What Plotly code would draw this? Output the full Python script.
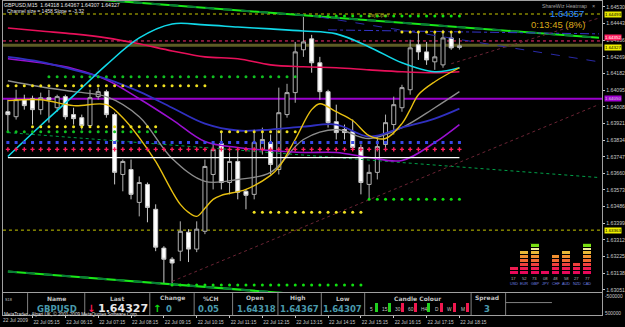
import math
import pandas as pd
import plotly.graph_objects as go

W, H = 625, 327

# ---------------- data ----------------
bar_times = pd.date_range("2009-07-22 04:30", periods=56, freq="15min")
bars = list(range(len(bar_times)))

opens = [1.63982, 1.63956, 1.64045, 1.64050, 1.63993, 1.64055, 1.64003, 1.64061, 1.63967, 1.63951,
         1.63910, 1.64061, 1.64087, 1.63967, 1.63654, 1.63680, 1.63508, 1.63602, 1.63472, 1.63269,
         1.63211, 1.63253, 1.63352, 1.63264, 1.63357, 1.63654, 1.63816, 1.63612, 1.63722, 1.63566,
         1.63550, 1.63785, 1.63821, 1.63680, 1.63967, 1.64082, 1.64306, 1.64363, 1.64238, 1.64087,
         1.63930, 1.63889, 1.63878, 1.63795, 1.63602, 1.63665, 1.63811, 1.63915, 1.64003, 1.64097,
         1.64332, 1.64295, 1.64243, 1.64227, 1.64368, 1.64318]
highs = [1.64045, 1.64097, 1.64071, 1.64066, 1.64082, 1.64097, 1.64071, 1.64071, 1.64003, 1.63967,
         1.64097, 1.64108, 1.64097, 1.63977, 1.63732, 1.63732, 1.63644, 1.63612, 1.63498, 1.63279,
         1.63222, 1.63409, 1.63368, 1.63409, 1.63732, 1.63821, 1.63873, 1.63769, 1.63785, 1.63576,
         1.63889, 1.63899, 1.63863, 1.64108, 1.64128, 1.64347, 1.64477, 1.64384, 1.64269, 1.64097,
         1.64019, 1.63915, 1.63941, 1.63811, 1.63706, 1.63852, 1.63967, 1.64061, 1.64123, 1.64358,
         1.64399, 1.64347, 1.64399, 1.64410, 1.64394, 1.64367]
lows = [1.63873, 1.63941, 1.63993, 1.63915, 1.63967, 1.63925, 1.63982, 1.63941, 1.63915, 1.63889,
        1.63899, 1.64045, 1.63951, 1.63602, 1.63566, 1.63524, 1.63435, 1.63404, 1.63253, 1.63081,
        1.63071, 1.63201, 1.63196, 1.63248, 1.63342, 1.63576, 1.63576, 1.63550, 1.63524, 1.63472,
        1.63524, 1.63758, 1.63654, 1.63654, 1.63951, 1.64029, 1.64269, 1.64186, 1.64045, 1.63899,
        1.63837, 1.63837, 1.63785, 1.63550, 1.63524, 1.63628, 1.63785, 1.63863, 1.63982, 1.64071,
        1.64253, 1.64227, 1.64201, 1.64212, 1.64306, 1.64307]
closes = [1.63967, 1.64045, 1.64014, 1.63993, 1.64055, 1.64045, 1.64061, 1.63956, 1.63946, 1.63910,
          1.64055, 1.64087, 1.63967, 1.63665, 1.63722, 1.63550, 1.63612, 1.63482, 1.63274, 1.63211,
          1.63191, 1.63357, 1.63264, 1.63368, 1.63696, 1.63785, 1.63612, 1.63722, 1.63561, 1.63545,
          1.63821, 1.63837, 1.63706, 1.63977, 1.64082, 1.64295, 1.64347, 1.64238, 1.64087, 1.63925,
          1.63873, 1.63873, 1.63795, 1.63612, 1.63665, 1.63800, 1.63925, 1.64019, 1.64108, 1.64316,
          1.64295, 1.64253, 1.64269, 1.64368, 1.64316, 1.64327]

ma_bars = [0, 4, 8, 12, 16, 20, 24, 28, 32, 36, 40, 44, 48, 52, 55]
ma_cyan = [1.63748, 1.63910, 1.64066, 1.64227, 1.64368, 1.64441, 1.64436, 1.64425, 1.64415, 1.64404,
           1.64389, 1.64321, 1.64238, 1.64191, 1.64212]
ma_crimson = [1.64420, 1.64404, 1.64389, 1.64368, 1.64337, 1.64300, 1.64269, 1.64259, 1.64227, 1.64217,
              1.64212, 1.64201, 1.64191, 1.64186, 1.64191]
ma_blue = [1.64269, 1.64243, 1.64201, 1.64154, 1.64087, 1.64003, 1.63920, 1.63884, 1.63889, 1.63904,
           1.63915, 1.63852, 1.63899, 1.63946, 1.63998]
ma_purple = [1.64259, 1.64238, 1.64207, 1.64149, 1.64050, 1.63941, 1.63826, 1.63795, 1.63779, 1.63769,
             1.63769, 1.63743, 1.63727, 1.63821, 1.63915]
ma_gray = [1.64144, 1.64113, 1.64087, 1.64061, 1.63956, 1.63738, 1.63618, 1.63628, 1.63665, 1.63837,
           1.63889, 1.63842, 1.63899, 1.64003, 1.64087]
yellow_bars = [0, 4, 8, 12, 14, 16, 18, 20, 21, 22, 23, 24, 25, 26, 29, 32, 33, 35, 37, 38, 40, 42,
               44, 46, 48, 49, 50, 52, 55]
ma_yellow = [1.64040, 1.64045, 1.64014, 1.64019, 1.63951, 1.63847, 1.63722, 1.63566, 1.63498, 1.63456,
             1.63435, 1.63477, 1.63524, 1.63545, 1.63576, 1.63649, 1.63691, 1.63837, 1.63993, 1.64024,
             1.63982, 1.63936, 1.63857, 1.63842, 1.63920, 1.63993, 1.64071, 1.64139, 1.64212]

# straight lines (bar index pairs, price pairs)
upper_ch_bars, upper_ch = [0, 72], [1.64604, 1.64369]
lower_ch_bars, lower_ch = [0, 36], [1.63147, 1.63026]
mid_ch_bars, mid_ch = [0, 72], [1.63873, 1.63638]
navy1_bars, navy1 = [38, 72], [1.64477, 1.64243]
navy2_bars, navy2 = [39, 72], [1.64410, 1.64389]
maroon1_bars, maroon1 = [20, 72], [1.63095, 1.64020]
maroon2_bars, maroon2 = [54, 72], [1.64233, 1.64472]
white_bars, white_level = [0, 55], 1.63742

# horizontal levels across the chart
level_prices = [1.64493, 1.64352, 1.64330, 1.64050, 1.63363]
level_labels = ["1.64493", "1.64352", "1.64327", "1.64050", "1.63363"]

# dotted level rows
dot_level = [1.64483, 1.64399, 1.64165, 1.64118, 1.63904, 1.63878, 1.63821, 1.63785, 1.63878, 1.63456,
             1.63076, 1.63524]
dot_first = [38, 48, 5, 0, 3, 0, 0, 0, 26, 30, 20, 44]
dot_last = [55, 55, 35, 24, 18, 18, 55, 55, 35, 43, 43, 55]

# axis ticks
price_ticks = [1.64530, 1.64443, 1.64356, 1.64269, 1.64182, 1.64095, 1.64008, 1.63921, 1.63834,
               1.63747, 1.63660, 1.63573, 1.63486, 1.63399, 1.63312, 1.63225, 1.63138, 1.63051]
price_tick_text = ["1.64530", "1.64443", "1.64356", "1.64269", "1.64182", "1.64095", "1.64008",
                   "1.63921", "1.63834", "1.63747", "1.63660", "1.63573", "1.63486", "1.63399",
                   "1.63312", "1.63225", "1.63138", "1.63051"]
time_tick_bars = [3, 7, 11, 15, 19, 23, 27, 31, 35, 39, 43, 47, 51, 55]
time_tick_text = ["22 Jul 05:15", "22 Jul 06:15", "22 Jul 07:15", "22 Jul 08:15", "22 Jul 09:15",
                  "22 Jul 10:15", "22 Jul 11:15", "22 Jul 12:15", "22 Jul 13:15", "22 Jul 14:15",
                  "22 Jul 15:15", "22 Jul 16:15", "22 Jul 17:15", "22 Jul 18:15"]

# heatmap
currencies = ["USD", "EUR", "GBP", "JPY", "CHF", "AUD", "NZD", "CAD"]
strength = [17, 52, 73, 8, 48, 58, 27, 77]
strength_text = ["17", "52", "73", "08", "48", "58", "27", "77"]

# candle colour panel
timeframes = ["5", "15", "30", "60", "H4", "D", "W", "M"]
tf_bull = [True, True, False, False, True, False, False, False]

# table
headers = ["Name", "Last", "Change", "%CH", "Open", "High", "Low", "Candle Colour", "Spread"]
symbol_name, last_price, change_val, pct_change = "GBPUSD", "1.64327", "0", "0.05"
open_price, high_price, low_price, spread = "1.64318", "1.64367", "1.64307", "3"

# ---------------- helpers ----------------
def px(x):
    return x / W

def py(y):
    return 1 - y / H

X_RANGE = [-0.6, 72.39]
Y_RANGE = [1.63039, 1.64561]
FONT = "Liberation Sans"

fig = go.Figure()

fig.add_trace(go.Candlestick(
    x=bars, open=opens, high=highs, low=lows, close=closes,
    increasing=dict(line=dict(color="#b0b0b0", width=1), fillcolor="#000000"),
    decreasing=dict(line=dict(color="#c8c8c8", width=1), fillcolor="#ffffff"),
    whiskerwidth=0, hoverinfo="skip", showlegend=False))

def line(xs, ys, color, width=1.0, dash="solid", shape="linear"):
    fig.add_trace(go.Scatter(x=xs, y=ys, mode="lines", hoverinfo="skip", showlegend=False,
                             line=dict(color=color, width=width, dash=dash, shape=shape)))

# channel + trend lines
line(upper_ch_bars, upper_ch, "#18e818", 2)
line(upper_ch_bars, upper_ch, "#0a7a3a", 2, "dash")
line(lower_ch_bars, lower_ch, "#18e818", 2)
line(lower_ch_bars, lower_ch, "#0a7a3a", 2, "dash")
line(mid_ch_bars, mid_ch, "#00a048", 1, "dot")
line(navy1_bars, navy1, "#2a2aa8", 1, "dash")
line(navy2_bars, navy2, "#3434c8", 1, "dashdot")
line(maroon1_bars, maroon1, "#6a2434", 1, "dot")
line(maroon2_bars, maroon2, "#6a2434", 1, "dot")

# moving averages
line(ma_bars, ma_crimson, "#e8105a", 1.6, shape="spline")
line(ma_bars, ma_gray, "#8c8c8c", 1.4, shape="spline")
line(ma_bars, ma_purple, "#9a10d0", 1.6, shape="spline")
line(ma_bars, ma_blue, "#3030c0", 1.8, shape="spline")
line(ma_bars, ma_cyan, "#10d8e8", 1.6, shape="spline")
line(yellow_bars, ma_yellow, "#e8c010", 1.4, shape="spline")
line(white_bars, [white_level] * len(white_bars), "#ffffff", 1.2)

# horizontal levels
level_styles = [("#c8c800", 1, "dot"), ("#ff3070", 1, "dot"), ("#5c5c24", 3, "solid"),
                ("#9a00cc", 2, "solid"), ("#c8c800", 1, "dot")]
for p, (col, wd, ds) in zip(level_prices, level_styles):
    fig.add_hline(y=p, line=dict(color=col, width=wd, dash=ds), layer="below")

# dot rows
dot_colors = ["#10e010", "#f0e020", "#10c020", "#f0e020", "#f0e020", "#10c020", "#3848e8",
              "#ff2060", "#f0e020", "#f0e020", "#10e010", "#10e010"]
dot_symbols = ["circle"] * 6 + ["square", "cross"] + ["circle"] * 4
for lvl, a, b, col, sym in zip(dot_level, dot_first, dot_last, dot_colors, dot_symbols):
    xs = list(range(a, b + 1))
    fig.add_trace(go.Scatter(x=xs, y=[lvl] * len(xs), mode="markers", hoverinfo="skip",
                             showlegend=False,
                             marker=dict(color=col, size=3 if sym != "cross" else 3.5, symbol=sym,
                                         line=dict(width=0))))

# sub window (placeholder trace so the subplot exists)
fig.add_trace(go.Scatter(x=[bars[0]], y=[0.5], xaxis="x2", yaxis="y2", mode="markers",
                         marker=dict(opacity=0), hoverinfo="skip", showlegend=False))

# heatmap bars
counts = [math.ceil(v / 10) for v in strength]
level_colors = ["#e8085a", "#ee1c50", "#f0403c", "#f06830", "#f09030", "#e8b838", "#f0eca0", "#78e010"]
for k, col in enumerate(level_colors, start=1):
    fig.add_trace(go.Bar(x=currencies, y=[1 if c >= k else None for c in counts],
                         marker=dict(color=col, line=dict(color="#000000", width=1)),
                         width=0.82, xaxis="x3", yaxis="y3", hoverinfo="skip", showlegend=False))

# candle colour bars
fig.add_trace(go.Bar(x=[i + 0.18 for i in range(len(timeframes))], y=[1] * len(timeframes),
                     width=0.22, xaxis="x4", yaxis="y4", hoverinfo="skip", showlegend=False,
                     marker=dict(color=["#20d020" if b else "#f01850" for b in tf_bull],
                                 line=dict(width=0))))

axis_common = dict(showgrid=False, zeroline=False, fixedrange=True)
fig.update_layout(
    width=W, height=H, margin=dict(l=0, r=0, t=0, b=0),
    paper_bgcolor="#000000", plot_bgcolor="#000000", showlegend=False, hovermode=False,
    barmode="stack",
    xaxis=dict(domain=[px(3), px(611)], range=X_RANGE, showticklabels=False, ticks="",
               showline=True, mirror=True, linecolor="#a0a0a0", linewidth=1,
               rangeslider=dict(visible=False), anchor="y", **axis_common),
    yaxis=dict(domain=[py(293), py(1)], range=Y_RANGE, side="right", anchor="x",
               tickvals=price_ticks, ticktext=price_tick_text,
               tickfont=dict(family=FONT, size=5.2, color="#c8c8c8"),
               ticks="outside", ticklen=2, tickcolor="#c8c8c8", ticklabeloverflow="allow",
               showline=True, mirror=True, linecolor="#a0a0a0", linewidth=1, **axis_common),
    xaxis2=dict(domain=[px(3), px(611)], range=X_RANGE, anchor="y2", side="bottom",
                tickmode="array", tickvals=time_tick_bars, ticktext=time_tick_text,
                ticklabelshift=14, tickangle=0, ticklabeloverflow="allow",
                tickfont=dict(family=FONT, size=4.8, color="#c8c8c8"),
                ticks="outside", ticklen=2, tickcolor="#c8c8c8", showticklabels=True,
                showline=True, mirror=True, linecolor="#a0a0a0", linewidth=1, **axis_common),
    yaxis2=dict(domain=[py(316), py(294)], range=[0, 1], anchor="x2", side="right",
                showticklabels=False, ticks="", showline=True, mirror=True,
                linecolor="#a0a0a0", linewidth=1, **axis_common),
    xaxis3=dict(domain=[px(516), px(601)], range=[-0.5, 7.5], anchor="y3", visible=False,
                type="category", **axis_common),
    yaxis3=dict(domain=[py(275), py(244)], range=[0, 8], anchor="x3", visible=False, **axis_common),
    xaxis4=dict(domain=[px(373), px(479)], range=[-0.5, 7.5], anchor="y4", visible=False,
                **axis_common),
    yaxis4=dict(domain=[py(313), py(304)], range=[0, 1], anchor="x4",
                visible=False, **axis_common),
)

ann = []

def text(x, y, s, size, color, anchor="left", family=FONT, xref="paper", yref="paper",
         bg=None, vanchor="middle"):
    d = dict(x=x, y=y, xref=xref, yref=yref, text=s, showarrow=False, xanchor=anchor,
             yanchor=vanchor, font=dict(family=family, size=size, color=color), borderpad=0)
    if bg:
        d["bgcolor"] = bg
    ann.append(d)

# header texts on chart
text(px(3), py(5), "GBPUSD,M15  1.64318 1.64367 1.64307 1.64327", 5.2, "#e8e8e8")
text(px(6), py(11.5), "Channel size = 1458 Slope = -3.32", 5.0, "#e8e8e8")
text(px(597), py(6), "ShareWiz Heatmap", 5.2, "#a0a0a0", anchor="right")
text(px(600), py(6), "×", 5.5, "#a0a0a0")
text(px(594), py(14), "1.64357", 9.5, "#2f8cff", anchor="right")
text(px(595), py(24.5), "0:13:45 (8%)", 9.5, "#d8a818", anchor="right")
text(px(372), py(16), "Day Open", 4.6, "#b0b020")

# right axis price highlights
hl_bg = ["#e8e800", "#ff2060", "#f0f000", "#a000d0", "#f0f000"]
hl_fg = ["#000000", "#ffffff", "#000000", "#d0d0d0", "#000000"]
hl_shift = [0, 3.0, -2.0, 0, 0]
for order in [0, 1, 3, 4, 2]:
    d = dict(x=px(612.5), y=level_prices[order], xref="paper", yref="y",
             text=level_labels[order], showarrow=False, xanchor="left", yanchor="middle",
             yshift=hl_shift[order], bgcolor=hl_bg[order], borderpad=0,
             font=dict(family=FONT, size=4.4, color=hl_fg[order]))
    ann.append(d)

# sub window axis labels
text(px(613), py(297.5), "-500000", 4.8, "#c8c8c8")
text(px(613), py(314.5), "500000", 4.8, "#c8c8c8")
text(px(2), py(321.5), "22 Jul 2009", 4.8, "#c8c8c8")

# heatmap labels
for cur, s in zip(currencies, strength_text):
    text(cur, py(279.5), s, 4.2, "#b4b4b4", anchor="center", xref="x3")
    text(cur, py(284.5), cur, 3.8, "#7080e0", anchor="center", xref="x3")

# candle colour labels
for i, tf in enumerate(timeframes):
    text(i - 0.2, py(310), tf, 4.8, "#c8c8c8", anchor="center", xref="x4")

# table
BOLD = "DejaVu Sans"
header_x = [57, 119, 175, 214, 259, 302, 348, 424, 494]
for hx, hd in zip(header_x, headers):
    text(px(hx), py(299), "<b>" + hd + "</b>", 6.0, "#c0c0c0", anchor="center", family=BOLD)
text(px(9), py(300.5), "S18", 3.8, "#c0c0c0", anchor="center")
teal = "#4a9aac"
text(px(58), py(309.5), "<b>" + symbol_name + "</b>", 8.5, teal, anchor="center", family=BOLD)
text(px(92.5), py(309.5), "<b>↓</b>", 10, "#ff1a50", anchor="center", family=BOLD)
text(px(125), py(309.5), "<b>" + last_price + "</b>", 11, "#e8e8e8", anchor="center", family=BOLD)
text(px(159), py(309.5), "<b>↑</b>", 10, "#10e010", anchor="center", family=BOLD)
text(px(171.5), py(309.5), "<b>" + change_val + "</b>", 8.5, teal, anchor="center", family=BOLD)
text(px(212), py(309.5), "<b>" + pct_change + "</b>", 8.5, teal, anchor="center", family=BOLD)
text(px(260), py(309.5), "<b>" + open_price + "</b>", 8.5, teal, anchor="center", family=BOLD)
text(px(304), py(309.5), "<b>" + high_price + "</b>", 8.5, teal, anchor="center", family=BOLD)
text(px(348), py(309.5), "<b>" + low_price + "</b>", 8.5, teal, anchor="center", family=BOLD)
text(px(494), py(309.5), "<b>" + spread + "</b>", 8.5, teal, anchor="center", family=BOLD)
text(px(3), py(314.5), "MetaTrader - Alpari UK, © 2001-2009 MetaQuotes Software Corp.", 4.6,
     "#e0e0e0")

shapes = []
for sx in [28, 86, 152, 197, 236, 282, 326, 370, 478, 513]:
    shapes.append(dict(type="line", xref="paper", yref="paper", x0=px(sx), x1=px(sx),
                       y0=py(294), y1=py(316), line=dict(color="#808080", width=1)))
shapes.append(dict(type="line", xref="paper", yref="paper", x0=px(513), x1=px(560),
                   y0=py(303.5), y1=py(303.5), line=dict(color="#808080", width=1)))

fig.update_layout(annotations=ann)
for s in shapes:
    fig.add_shape(**s)

fig.write_html("out.html", config=dict(displayModeBar=False, staticPlot=True))
